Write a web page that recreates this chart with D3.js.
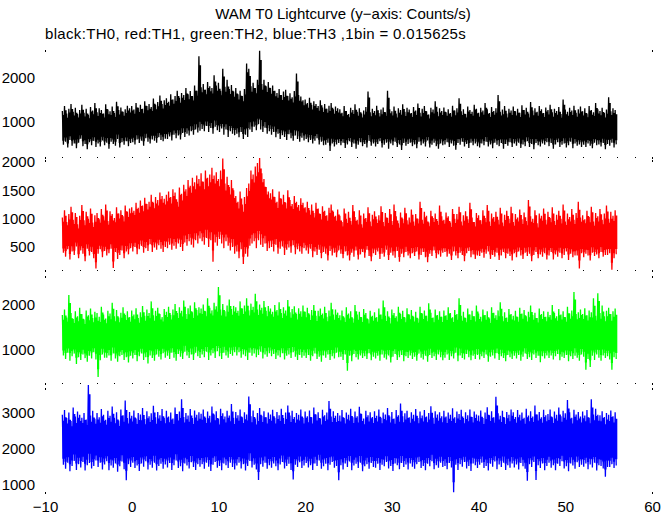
<!DOCTYPE html>
<html><head><meta charset="utf-8">
<script src="https://cdn.jsdelivr.net/npm/d3@7"></script>
<style>
body{margin:0;background:#fff}
svg{display:block}
text{font-family:"Liberation Sans",Arial,Helvetica,sans-serif;font-size:15px;fill:#000}
.sub{letter-spacing:0.33px}
</style></head><body>
<svg id="chart" width="672" height="515"></svg>
<script>
const titleText = "WAM T0 Lightcurve (y\u2212axis: Counts/s)";
const subtitleText = "black:TH0, red:TH1, green:TH2, blue:TH3 ,1bin = 0.015625s";
const tStart = -8, binWidth = 0.25;
const xTicks = [-10, 0, 10, 20, 30, 40, 50, 60];
const blackTicks = [1000, 2000];
const redTicks = [500, 1000, 1500, 2000];
const greenTicks = [1000, 2000];
const blueTicks = [1000, 2000, 3000];

const blackHi = [
1240,1350,1180,1290,1400,1220,1310,1170,1260,1380,1200,1290,1150,1330,1250,1420,
1210,1300,1260,1180,1390,1270,1230,1340,1190,1450,1260,1320,1220,1280,1360,1300,
1350,1270,1420,1310,1380,1290,1460,1350,1400,1330,1520,1380,1440,1590,1400,1480,
1530,1450,1620,1500,1580,1700,1540,1650,1600,1760,1620,1690,1580,1820,1700,2480,
1780,1850,1720,1900,1800,1760,2050,1820,1880,1700,2200,1790,1950,1740,1830,1680,
1760,1620,1700,1580,1740,2320,2200,1800,1880,1760,1950,2610,1850,1950,1800,1900,
1760,1820,1700,1650,1740,1600,1680,1720,1580,1640,1550,1690,2090,1600,1570,1480,
1500,1420,1540,1380,1460,1400,1350,1480,1320,1400,1290,1360,1420,1280,1340,1300,
1280,1200,1350,1240,1170,1310,1260,1390,1220,1300,1180,1250,1330,1680,1210,1290,
1240,1360,1190,1270,1320,1210,1700,1280,1230,1340,1180,1300,1260,1390,1220,1310,
1270,1190,1330,1250,1410,1200,1290,1350,1230,1160,1310,1270,1460,1220,1300,1240,
1320,1210,1280,1190,1360,1250,1300,1530,1230,1280,1170,1340,1260,1220,1380,1290,
1200,1310,1250,1420,1280,1190,1330,1240,1300,1600,1220,1270,1350,1180,1290,1250,
1340,1230,1290,1200,1370,1260,1310,1180,1440,1250,1300,1220,1350,1280,1190,1320,
1260,1380,1210,1290,1240,1330,1170,1500,1270,1220,1310,1250,1360,1200,1280,1340,
1230,1300,1180,1350,1260,1210,1420,1280,1240,1310,1190,1270,1550,1230,1300,1260];
const blackLo = [
470,540,410,580,450,500,390,520,610,440,490,370,530,460,560,420,
500,430,570,460,520,380,540,490,450,600,410,530,470,550,440,510,
530,480,590,510,560,450,620,540,500,590,560,520,640,580,550,610,
600,660,570,700,620,680,590,740,650,720,680,780,700,820,750,790,
830,780,900,760,850,720,880,800,760,840,700,820,650,780,720,690,
720,640,760,600,700,650,820,760,880,800,940,820,760,860,720,780,
700,760,640,720,600,690,650,580,710,620,560,680,600,540,630,570,
600,530,580,500,560,620,480,540,460,470,520,330,500,430,480,510,
460,520,400,480,550,420,500,380,470,530,440,490,410,560,450,500,
430,490,550,410,470,520,380,500,460,540,420,480,350,510,450,490,
520,440,480,390,540,460,500,430,570,410,470,520,440,380,500,460,
480,530,420,500,450,360,510,470,540,430,490,400,520,460,500,440,
410,500,460,540,430,480,390,520,470,440,510,380,490,450,530,420,
500,450,520,400,480,440,550,420,490,370,510,460,430,500,470,530,
440,510,380,480,530,420,470,500,410,460,540,390,500,450,480,420,
470,420,500,450,390,520,460,480,430,510,370,490,450,520,410,480];

const redHi = [
1020,1150,940,1080,1210,980,1100,900,1050,1240,970,1120,1000,1180,930,1060,
1100,990,1170,1040,1250,960,1130,1080,1010,1200,1090,1150,1040,1230,1120,1180,
1200,1140,1280,1190,1320,1230,1370,1260,1300,1420,1280,1380,1330,1460,1400,1350,
1420,1480,1380,1520,1460,1300,1550,1440,1600,1520,1680,1580,1720,1640,1760,1700,
1800,1650,1850,1720,1780,1900,1760,1820,1700,1850,2060,1620,1740,1560,1680,1500,
1400,1300,1480,1250,1380,1540,1620,1850,1780,1920,1980,2070,1800,1700,1560,1480,
1450,1520,1380,1300,1480,1350,1420,1280,1500,1330,1260,1400,1300,1240,1360,1280,
1200,1300,1150,1250,1100,1280,1180,1080,1220,1140,1060,1190,1250,1120,1050,1160,
1050,940,1180,1000,1120,960,1240,1030,980,1150,900,1090,1010,1200,950,1070,
1130,990,1060,1220,940,1100,1010,1170,960,1250,1040,920,1110,1000,1190,970,
1020,1160,950,1080,1000,1300,980,1120,1050,930,1140,1010,1090,960,1230,1040,
980,1110,1040,930,1170,1000,1080,1210,950,1060,1130,990,1280,1020,940,1100,
1060,970,1150,1010,1240,950,1090,1030,1120,980,1190,930,1070,1140,1000,1210,
940,1080,1020,1160,990,1110,960,1330,1040,1000,1150,920,1090,1050,1180,980,
1120,1010,1200,960,1070,1140,1000,1250,950,1090,1030,1170,980,1100,1300,1020,
1060,990,1140,1030,1210,950,1100,1040,1170,980,1090,1230,1000,1120,1050,1150];
const redLo = [
400,330,460,280,420,360,510,300,440,380,250,470,350,410,300,120,
380,460,320,430,350,390,470,130,410,290,360,440,300,420,370,480,
420,500,370,460,520,400,480,430,550,410,490,450,530,470,410,500,
480,540,450,520,470,560,500,430,580,520,600,540,490,620,560,650,
600,540,660,500,620,240,580,520,640,560,480,600,520,440,500,380,
420,300,460,200,380,330,520,560,600,480,620,540,500,560,430,480,
500,420,540,380,470,510,360,450,490,400,530,370,460,420,380,480,
440,380,470,320,420,360,450,300,410,380,260,430,350,400,320,440,
380,300,420,350,260,400,330,440,280,370,410,310,450,340,250,390,
360,420,290,380,330,450,270,400,350,310,430,240,380,320,410,350,
300,390,340,420,280,360,410,320,230,380,340,440,300,370,330,400,
410,330,380,270,420,350,300,400,360,250,390,430,320,370,290,350,
340,400,310,380,420,290,360,330,400,270,350,410,300,380,340,260,
390,320,420,350,290,400,340,380,250,360,410,300,370,330,390,280,
350,410,280,370,330,400,300,360,420,270,380,320,350,350,120,390,
320,380,350,260,400,340,370,300,410,330,360,360,390,100,300,370];

const greenHi = [
1780,1900,1720,2220,1820,1690,1860,1750,1940,1800,1680,1880,1770,1920,1710,1850,
1820,1740,1960,1790,1700,1870,1810,2050,1750,1890,1720,1830,1950,1780,1860,1730,
1880,1790,1930,1710,1840,1980,1760,1900,1820,2080,1770,1870,1940,1800,1730,1910,
1850,1960,1780,1900,2020,1820,1950,1870,2100,1800,1930,1990,1840,2060,1890,1950,
1920,2010,1860,2150,1940,1880,2050,1970,2400,1900,2020,1860,1990,2120,1910,1980,
1950,1870,2080,1920,1990,2150,1880,2030,1960,2250,1900,2010,1940,2090,1870,1980,
1920,1850,2000,1890,2060,1820,1950,1880,2110,1840,1910,1970,1800,1930,1860,1990,
1850,1940,1790,1890,2000,1760,1870,1920,1810,1960,1740,1880,2050,1790,1900,1830,
1770,1880,1720,1950,1810,1860,1700,2000,1790,1850,1730,1910,1820,1680,1870,1760,
1840,1730,1920,1790,2100,1760,1860,1710,1900,1820,1750,1960,1800,1870,1720,1930,
1790,1890,1740,1850,1700,1960,1810,1880,1760,2040,1830,1720,1900,1780,1860,1740,
1880,1770,1950,1820,1730,1890,1800,2150,1760,1850,1710,1920,1790,1870,1750,1990,
1810,1740,1900,1780,1860,1700,1950,1830,1770,1880,2060,1750,1840,1720,1910,1800,
1760,1870,1730,1940,1810,1890,1750,1850,1990,1780,1830,1710,1920,1800,1860,1740,
1850,1780,2000,1820,1750,1910,1790,1860,1730,1960,1810,1880,2290,1800,1840,1900,
1800,1930,1770,1880,1840,2150,1760,2260,1820,1990,1750,1870,1940,1800,1860,1920];
const greenLo = [
880,800,940,760,860,920,690,840,780,900,820,740,870,810,950,790,
400,770,900,830,830,880,760,920,810,740,860,890,780,840,720,870,
810,890,750,860,920,780,840,700,880,820,760,900,850,790,930,830,
870,800,940,830,760,910,850,800,960,880,820,900,780,940,860,820,
900,840,960,780,880,930,820,970,860,800,940,880,830,910,870,950,
880,950,830,900,860,780,940,870,920,840,890,960,810,900,850,930,
860,910,800,880,840,930,790,870,900,820,950,850,780,890,830,870,
820,890,760,860,920,800,850,740,880,830,900,780,860,810,940,840,
850,780,900,540,870,750,910,840,790,880,820,860,800,930,770,850,
810,870,760,900,830,790,880,720,850,910,780,840,890,750,860,820,
880,800,850,760,920,830,790,870,740,890,820,860,780,900,840,770,
830,900,780,860,810,940,750,880,820,790,910,840,770,870,800,890,
790,860,820,900,740,850,880,810,930,780,860,820,750,890,840,800,
870,810,890,760,850,920,800,840,780,900,820,870,730,860,810,880,
820,880,790,860,910,770,850,820,890,750,860,800,870,830,760,900,
850,560,800,620,870,780,900,830,760,880,820,860,790,560,840,800];

const blueHi = [
2950,3080,2860,3010,2780,3150,2900,3040,2950,2870,3000,2820,3780,2930,3060,2840,
3000,2880,3110,2950,2810,3060,2920,3180,2870,3020,2790,3100,2940,3350,2860,3030,
2920,3070,2850,3000,2960,3140,2830,3050,2910,2990,3200,2880,3030,2940,3110,2870,
3060,2900,3010,2850,3150,2970,3040,3380,2890,3000,2930,3110,2860,3070,2950,3020,
2980,3100,2870,3040,2920,3180,2960,3050,2840,3120,2990,2900,3060,2930,3250,2870,
3030,2940,3100,2880,3020,2960,3460,2910,3070,2850,3000,3140,2920,3050,2880,3010,
2960,3090,2870,3030,2940,3120,2860,3010,3210,2930,3060,2890,3000,2950,3100,2870,
3040,2910,3070,2880,3150,2960,3020,2850,3090,2940,3010,3330,2900,3050,2920,3000,
2930,3080,2860,3010,2950,3120,2880,3040,2910,3170,2970,2850,3060,2940,3020,2890,
3050,2920,3100,2870,3010,2960,3140,2900,3030,2850,3080,2940,3260,2910,2990,3060,
2880,3020,2950,3110,2860,3040,2930,3080,2900,3000,3190,2870,3050,2960,3020,2910,
3060,2900,3010,2950,3130,2880,3040,2970,3090,2860,3020,2940,3100,2890,3040,2960,
2930,3070,2860,3010,3160,2940,3050,2880,3450,2990,2920,3060,2870,3030,2950,3100,
3020,2890,3080,2950,3010,2870,3120,2930,3050,2900,3210,2960,3030,2880,3090,2940,
2970,3100,2880,3040,2950,3150,2910,3060,2990,3360,3020,2870,3090,2960,3030,2900,
3040,2930,3080,2870,3380,2960,3120,2950,2940,3050,2890,3000,2950,3070,2910,3020];
const blueLo = [
1560,1450,1620,1380,1530,1670,1420,1580,1490,1640,1400,1550,1610,1460,1530,1680,
1500,1620,1430,1570,1660,1410,1540,1480,1600,1370,1520,1650,1440,1130,1580,1500,
1620,1470,1540,1390,1600,1510,1660,1430,1560,1480,1620,1400,1530,1590,1450,1570,
1490,1610,1420,1550,1680,1470,1520,1380,1600,1540,1460,1630,1500,1420,1580,1510,
1580,1450,1620,1510,1390,1560,1640,1480,1530,1410,1600,1550,1470,1620,1500,1430,
1540,1620,1460,1580,1400,1530,1670,1490,1560,1430,1140,1580,1510,1620,1450,1550,
1480,1600,1520,1410,1570,1640,1460,1530,1590,1420,1150,1560,1500,1630,1470,1540,
1610,1490,1550,1420,1600,1530,1680,1450,1520,1590,1410,1560,1640,1480,1530,1130,
1550,1430,1600,1500,1650,1410,1540,1590,1470,1620,1380,1520,1580,1450,1610,1500,
1480,1590,1420,1560,1520,1640,1460,1530,1390,1600,1550,1440,1610,1500,1570,1430,
1600,1510,1450,1580,1640,1470,1530,1410,1590,1520,1660,1440,1550,1480,1620,1500,
1530,1440,1610,1490,800,1560,1420,1580,1510,1640,1460,1530,1390,1600,1550,1470,
1560,1620,1470,1530,1400,1590,1510,1650,1440,1570,1500,1620,1420,1550,1480,1600,
1490,1570,1430,1610,1520,1450,1120,1580,1500,1640,1140,1550,1470,1600,1410,1530,
1620,1480,1550,1410,1590,1530,1660,1460,1520,1380,1600,1540,1450,1630,1500,1560,
1510,1600,1440,1570,1490,1620,1400,1550,1530,1460,1230,1500,1500,1580,1470,1540];

const panels = [
  {hi: blackHi, lo: blackLo, color: "#000000", ticks: blackTicks, domain: [193, 2625], range: [157, 50], minor: true},
  {hi: redHi,   lo: redLo,   color: "#ff0000", ticks: redTicks,   domain: [94, 2035],  range: [270, 160], minor: true},
  {hi: greenHi, lo: greenLo, color: "#00ff00", ticks: greenTicks, domain: [267, 2644], range: [383, 276], minor: true},
  {hi: blueHi,  lo: blueLo,  color: "#0000ff", ticks: blueTicks,  domain: [806, 3694], range: [492, 388], minor: false}
];

const svg = d3.select("#chart");
const x = d3.scaleLinear().domain([-10, 60]).range([45, 652]);

svg.append("text").attr("x", 343).attr("y", 19).attr("text-anchor", "middle").text(titleText);
svg.append("text").attr("class", "sub").attr("x", 45).attr("y", 39).text(subtitleText);

panels.forEach(p => {
  const y = d3.scaleLinear().domain(p.domain).range(p.range);
  const bins = p.hi.map((v, i) => ({t: tStart + i * binWidth, hi: v, lo: p.lo[i]}));
  const last = bins[bins.length - 1];

  const area = d3.area()
    .x(d => x(d.t)).y0(d => y(d.lo + (d.hi - d.lo) * 0.12)).y1(d => y(d.hi - (d.hi - d.lo) * 0.12))
    .curve(d3.curveStepAfter);
  svg.append("path").attr("d", area(bins.concat([{t: last.t + binWidth, hi: last.hi, lo: last.lo}])))
    .attr("fill", p.color).attr("stroke", "none");

  const pts = [];
  bins.forEach(b => {
    pts.push([b.t, b.hi]);
    pts.push([b.t + binWidth / 2, b.lo]);
  });
  const line = d3.line().x(d => x(d[0])).y(d => y(d[1]));
  svg.append("path").attr("d", line(pts))
    .attr("fill", "none").attr("stroke", p.color).attr("stroke-width", 1.3);

  const ax = d3.axisLeft(y).tickValues(p.ticks).tickSize(0).tickPadding(10).tickFormat(d3.format("d"));
  const g = svg.append("g").attr("transform", "translate(45,0)").call(ax);
  g.select(".domain").remove();

  const yb = Math.round(p.range[0]), yt = Math.round(p.range[1]);
  [x(-10), x(60)].forEach(cx => {
    [yb, yt].forEach(cy => {
      svg.append("rect").attr("x", Math.round(cx)).attr("y", cy).attr("width", 1).attr("height", 2).attr("fill", "#000");
    });
  });
  if (p.minor) {
    d3.range(-10, 61, 2).forEach(t => {
      svg.append("rect").attr("x", Math.round(x(t))).attr("y", yb).attr("width", 1).attr("height", 1).attr("fill", "#000");
    });
  }
});

const xa = d3.axisBottom(x).tickValues(xTicks).tickSize(0).tickPadding(9);
const gx = svg.append("g").attr("transform", "translate(0,492)").call(xa);
gx.select(".domain").remove();
</script>
</body></html>
